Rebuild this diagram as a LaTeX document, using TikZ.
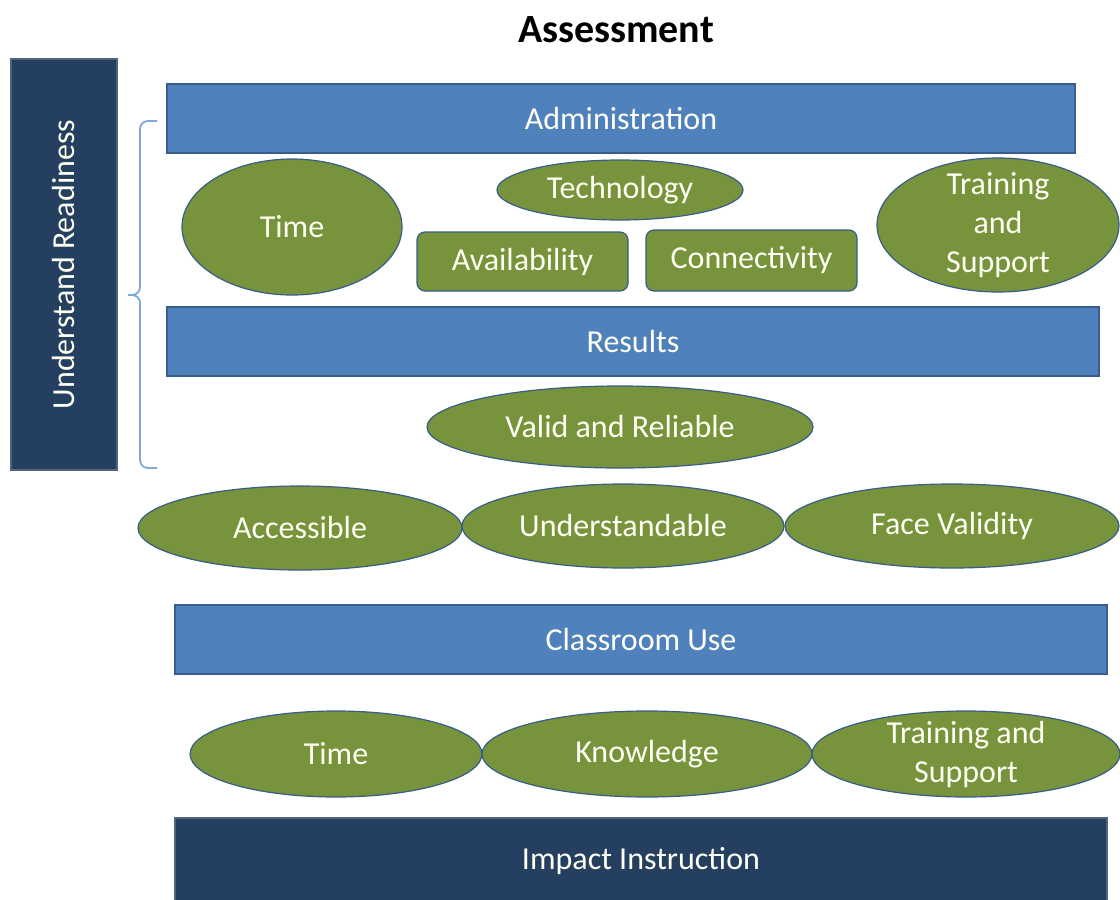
\documentclass[tikz,border=0pt]{standalone}
\usepackage{fontspec}
\setmainfont{Carlito}
\usetikzlibrary{shapes.geometric}
\definecolor{ogreen}{HTML}{77933C}
\definecolor{oblue}{HTML}{4F81BD}
\definecolor{oblueb}{HTML}{385D8A}
\definecolor{onavy}{HTML}{243F60}
\definecolor{obrace}{HTML}{7FA7D8}
\definecolor{otext}{HTML}{FFFFF4}
\tikzset{
  lbl/.style={font=\fontsize{16}{19.5}\selectfont, text=otext},
  bar/.style={rectangle, fill=oblue, draw=oblueb, line width=0.6pt, lbl, inner sep=0pt},
  navybox/.style={rectangle, fill=onavy, draw=onavy!80!white, line width=0.6pt, lbl, inner sep=0pt},
  oval/.style={ellipse, fill=ogreen, draw=oblueb, line width=0.6pt, lbl, inner sep=0pt, align=center},
  rbox/.style={rectangle, rounded corners=4pt, fill=ogreen, draw=oblueb, line width=0.6pt, lbl, inner sep=0pt},
}
\begin{document}
\begin{tikzpicture}[x=0.5pt,y=-0.5pt]
\useasboundingbox (0,0) rectangle (1120,900);
\begin{scope}
\clip (0,0) rectangle (1120,900);
\node[font=\fontsize{20}{24}\selectfont\bfseries] (title) at (616,30) {Assessment};
\node[navybox, minimum width=53pt, minimum height=205.5pt] (ready) at (64,264.5) {\rotatebox{90}{Understand Readiness}};
\draw[obrace, line width=0.9pt, rounded corners=4pt] (157,121) -- (140,121) -- (140,295) -- (128,295);
\draw[obrace, line width=0.9pt, rounded corners=4pt] (128,295) -- (140,295) -- (140,468) -- (157,468);
\node[bar, minimum width=454pt, minimum height=34.5pt] (admin) at (621,118.5) {Administration};
\node[oval, minimum width=110pt, minimum height=68pt] (time1) at (292,227) {Time};
\node[oval, minimum width=123pt, minimum height=30pt] (tech) at (620,190) {Technology};
\node[rbox, minimum width=105.5pt, minimum height=29.5pt] (avail) at (522.5,261.5) {Availability};
\node[rbox, minimum width=105.5pt, minimum height=30.5pt] (conn) at (751.5,260.5) {Connectivity};
\node[oval, minimum width=121pt, minimum height=67pt, inner ysep=-5pt] (train1) at (998,225) {Training\\and\\Support};
\node[bar, minimum width=466pt, minimum height=34.5pt] (results) at (633,341.5) {Results};
\node[oval, minimum width=193pt, minimum height=41pt] (valid) at (620,427) {Valid and Reliable};
\node[oval, minimum width=162pt, minimum height=42pt] (access) at (300,528) {Accessible};
\node[oval, minimum width=161pt, minimum height=42pt] (under) at (623,526) {Understandable};
\node[oval, minimum width=167pt, minimum height=42pt] (face) at (952,526) {Face Validity};
\node[bar, minimum width=466pt, minimum height=34.5pt] (class) at (641,639.5) {Classroom Use};
\node[oval, minimum width=146pt, minimum height=43pt] (time2) at (336,754) {Time};
\node[oval, minimum width=165pt, minimum height=43pt] (know) at (647,754) {Knowledge};
\node[oval, minimum width=154pt, minimum height=43pt, inner ysep=-4pt] (train2) at (966,754) {Training and\\Support};
\node[navybox, minimum width=466pt, minimum height=43pt] (impact) at (641,861) {Impact Instruction};
\end{scope}
\end{tikzpicture}
\end{document}
